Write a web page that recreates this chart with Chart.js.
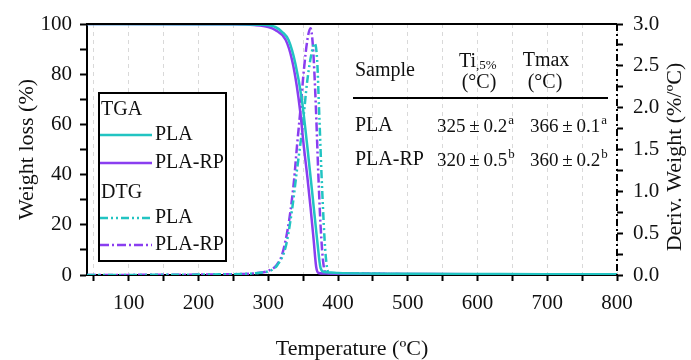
<!DOCTYPE html>
<html>
<head>
<meta charset="utf-8">
<script src="https://cdn.jsdelivr.net/npm/chart.js@4.4.0/dist/chart.umd.min.js"></script>
<style>
  html, body { margin: 0; padding: 0; background: #fff; }
  #wrap { width: 691px; height: 360px; position: relative; }
</style>
</head>
<body>
<div id="wrap"><canvas id="tgaChart" width="691" height="360"></canvas></div>
<script>
// ==========================================
// TGA / DTG of PLA and PLA-RP
// ==========================================

// TGA weight loss (%)
const tgaPlaT = [40, 250, 290, 310, 320, 329, 339, 348, 356, 363, 370, 375, 380, 390, 400, 500, 600, 700, 800];
const tgaPla = [100, 99.9, 99.7, 98.8, 96.8, 93.6, 84, 70, 51, 32.7, 14, 2.7, 1.2, 1.0, 0.8, 0.5, 0.4, 0.3, 0.3];

const tgaPlaRpT = [40, 250, 280, 300, 310, 325, 334, 341, 346, 351, 356, 360.5, 365, 368.6, 372, 380, 400, 500, 600, 700, 800];
const tgaPlaRp = [100, 99.9, 99.6, 98.8, 97.6, 93.6, 85.7, 75, 64.5, 51, 39, 27, 14, 3.3, 0.8, 0.6, 0.5, 0.4, 0.3, 0.3, 0.3];

// DTG derivative weight (%/ºC)
const dtgPlaT = [40, 250, 290, 305, 313, 325, 334, 341, 349, 356, 363, 366.5, 370, 373, 377, 382, 387, 400, 500, 600, 700, 800];
const dtgPla = [0, 0.01, 0.03, 0.06, 0.12, 0.34, 0.78, 1.25, 1.77, 2.33, 2.69, 2.77, 2.57, 1.93, 1.06, 0.26, 0.02, 0.02, 0.01, 0.01, 0.01, 0.01];

const dtgPlaRpT = [40, 250, 280, 300, 312, 320, 330, 337, 341, 346, 351, 356, 360.5, 364, 368, 371.5, 375, 379.5, 384, 400, 500, 600, 700, 800];
const dtgPlaRp = [0, 0.01, 0.02, 0.05, 0.12, 0.25, 0.66, 1.14, 1.53, 1.97, 2.45, 2.81, 2.95, 2.73, 2.05, 1.25, 0.58, 0.1, 0.02, 0.02, 0.01, 0.01, 0.01, 0.01];

// axis ticks
const xTicks = [50, 100, 150, 200, 250, 300, 350, 400, 450, 500, 550, 600, 650, 700, 750, 800];
const yTicks = [0, 10, 20, 30, 40, 50, 60, 70, 80, 90, 100];
const y2Ticks = [0, 0.25, 0.5, 0.75, 1, 1.25, 1.5, 1.75, 2, 2.25, 2.5, 2.75, 3];

// table of results
const tableHead = ['Sample', 'Ti', '(°C)', 'Tmax', '(°C)'];
const tableRows = [
  ['PLA', '325\u2009±\u20090.2', 'a', '366\u2009±\u20090.1', 'a'],
  ['PLA-RP', '320\u2009±\u20090.5', 'b', '360\u2009±\u20090.2', 'b'],
];

const TEAL = '#22c4c2';
const PURPLE = '#8a3ef0';
const FONT = "'Liberation Serif', 'Times New Roman', serif";

function pairs(xs, ys) {
  return xs.map((x, i) => ({ x: x, y: ys[i] }));
}

const datasets = [
  { label: 'PLA', group: 'TGA', data: pairs(tgaPlaT, tgaPla), borderColor: TEAL, borderWidth: 2.5, yAxisID: 'y' },
  { label: 'PLA-RP', group: 'TGA', data: pairs(tgaPlaRpT, tgaPlaRp), borderColor: PURPLE, borderWidth: 2.5, yAxisID: 'y' },
  { label: 'PLA', group: 'DTG', data: pairs(dtgPlaT, dtgPla), borderColor: TEAL, borderWidth: 2.5, borderDash: [8, 3, 2, 3, 2, 3], yAxisID: 'y2' },
  { label: 'PLA-RP', group: 'DTG', data: pairs(dtgPlaRpT, dtgPlaRp), borderColor: PURPLE, borderWidth: 2.5, borderDash: [9, 3, 2, 3], yAxisID: 'y2' },
];
datasets.forEach(d => {
  d.pointRadius = 0;
  d.fill = false;
  d.cubicInterpolationMode = 'monotone';
});

// frame, right dash-dot axis, legend box, table and right title
const overlay = {
  id: 'overlay',
  afterDraw(chart) {
    const ctx = chart.ctx;
    const a = chart.chartArea;
    ctx.save();

    // top border
    ctx.strokeStyle = '#000';
    ctx.lineWidth = 2;
    ctx.beginPath();
    ctx.moveTo(a.left, a.top);
    ctx.lineTo(a.right, a.top);
    ctx.stroke();

    // right axis: dash-dot
    ctx.setLineDash([7, 3, 2, 3]);
    ctx.beginPath();
    ctx.moveTo(a.right, a.top);
    ctx.lineTo(a.right, a.bottom);
    ctx.stroke();
    ctx.setLineDash([]);

    // legend
    ctx.fillStyle = '#fff';
    ctx.fillRect(99, 93, 127, 168);
    ctx.strokeStyle = '#000';
    ctx.lineWidth = 2;
    ctx.strokeRect(99, 93, 127, 168);
    ctx.fillStyle = '#111';
    ctx.font = '20px ' + FONT;
    ctx.textBaseline = 'middle';
    ctx.textAlign = 'left';
    ctx.fillText('TGA', 101, 110);
    ctx.fillText('DTG', 101, 193);
    const rowsY = [135, 163, 218, 245];
    datasets.forEach((d, i) => {
      const y = rowsY[i];
      ctx.strokeStyle = d.borderColor;
      ctx.lineWidth = 2.5;
      ctx.setLineDash(d.borderDash || []);
      ctx.beginPath();
      ctx.moveTo(100, y);
      ctx.lineTo(152, y);
      ctx.stroke();
      ctx.setLineDash([]);
      ctx.fillText(d.label, 155, y);
    });

    // table
    ctx.font = '20px ' + FONT;
    ctx.fillText(tableHead[0], 355, 71);
    ctx.textAlign = 'center';
    ctx.fillText(tableHead[2], 479, 83);
    ctx.fillText(tableHead[3], 546, 61);
    ctx.fillText(tableHead[4], 545, 83);
    ctx.textAlign = 'left';
    ctx.fillText(tableHead[1], 459, 62);
    const tiW = ctx.measureText(tableHead[1]).width;
    ctx.font = '13px ' + FONT;
    ctx.fillText(',5%', 459 + tiW, 66);

    ctx.strokeStyle = '#000';
    ctx.lineWidth = 2;
    ctx.beginPath();
    ctx.moveTo(353, 98);
    ctx.lineTo(608, 98);
    ctx.stroke();

    const rowY = [126, 160];
    tableRows.forEach((r, i) => {
      const y = rowY[i];
      ctx.font = '20px ' + FONT;
      ctx.fillText(r[0], 355, y);
      [[r[1], r[2], 437], [r[3], r[4], 530]].forEach(c => {
        ctx.font = '19px ' + FONT;
        ctx.fillText(c[0], c[2], y + 1);
        const w = ctx.measureText(c[0]).width;
        ctx.font = '13px ' + FONT;
        ctx.fillText(c[1], c[2] + w + 1, y - 5);
      });
    });

    // right axis title (reads bottom to top)
    ctx.translate(675, 157);
    ctx.rotate(-Math.PI / 2);
    ctx.font = '22px ' + FONT;
    ctx.textAlign = 'center';
    ctx.fillStyle = '#111';
    ctx.fillText('Deriv. Weight (%/ºC)', 0, 0);
    ctx.restore();
  },
};

const config = {
  type: 'line',
  data: { datasets: datasets },
  options: {
    responsive: false,
    animation: false,
    layout: { padding: { top: 24, left: 0, right: 0, bottom: 0 } },
    plugins: {
      legend: { display: false },
      tooltip: { enabled: false },
    },
    scales: {
      x: {
        type: 'linear',
        min: 40,
        max: 800,
        afterBuildTicks: s => { s.ticks = xTicks.map(v => ({ value: v })); },
        afterFit: s => { s.height = 85; },
        ticks: {
          autoSkip: false,
          maxRotation: 0,
          color: '#111',
          padding: 10,
          font: { family: FONT, size: 21 },
          callback: v => (v % 100 === 0 ? v : ''),
        },
        grid: {
          color: '#d9d9d9',
          lineWidth: 1,
          tickColor: '#000',
          tickWidth: 2,
          tickLength: 6,
        },
        border: { color: '#000', width: 2, dash: [4, 4] },
        title: {
          display: true,
          text: 'Temperature (ºC)',
          color: '#111',
          font: { family: FONT, size: 22, lineHeight: 1 },
          padding: { top: 0, bottom: 0 },
        },
      },
      y: {
        position: 'left',
        min: 0,
        max: 100,
        afterBuildTicks: s => { s.ticks = yTicks.map(v => ({ value: v })); },
        afterFit: s => { s.width = 87; },
        ticks: {
          autoSkip: false,
          color: '#111',
          padding: 8,
          font: { family: FONT, size: 21 },
          callback: v => (v % 20 === 0 ? v : ''),
        },
        grid: {
          drawOnChartArea: false,
          tickColor: '#000',
          tickWidth: 2,
          tickLength: 7,
        },
        border: { color: '#000', width: 2 },
        title: {
          display: true,
          text: 'Weight loss (%)',
          color: '#111',
          font: { family: FONT, size: 22, lineHeight: 1 },
          padding: { top: 16, bottom: 0 },
        },
      },
      y2: {
        position: 'right',
        min: 0,
        max: 3,
        afterBuildTicks: s => { s.ticks = y2Ticks.map(v => ({ value: v })); },
        afterFit: s => { s.width = 74; },
        ticks: {
          autoSkip: false,
          color: '#111',
          padding: 10,
          font: { family: FONT, size: 21 },
          callback: v => (Math.abs(v * 2 - Math.round(v * 2)) < 1e-6 ? v.toFixed(1) : ''),
        },
        grid: {
          drawOnChartArea: false,
          tickColor: '#000',
          tickWidth: 2,
          tickLength: 6,
        },
        border: { display: false },
      },
    },
  },
  plugins: [overlay],
};

const tgaChart = new Chart(document.getElementById('tgaChart'), config);
</script>
</body>
</html>
